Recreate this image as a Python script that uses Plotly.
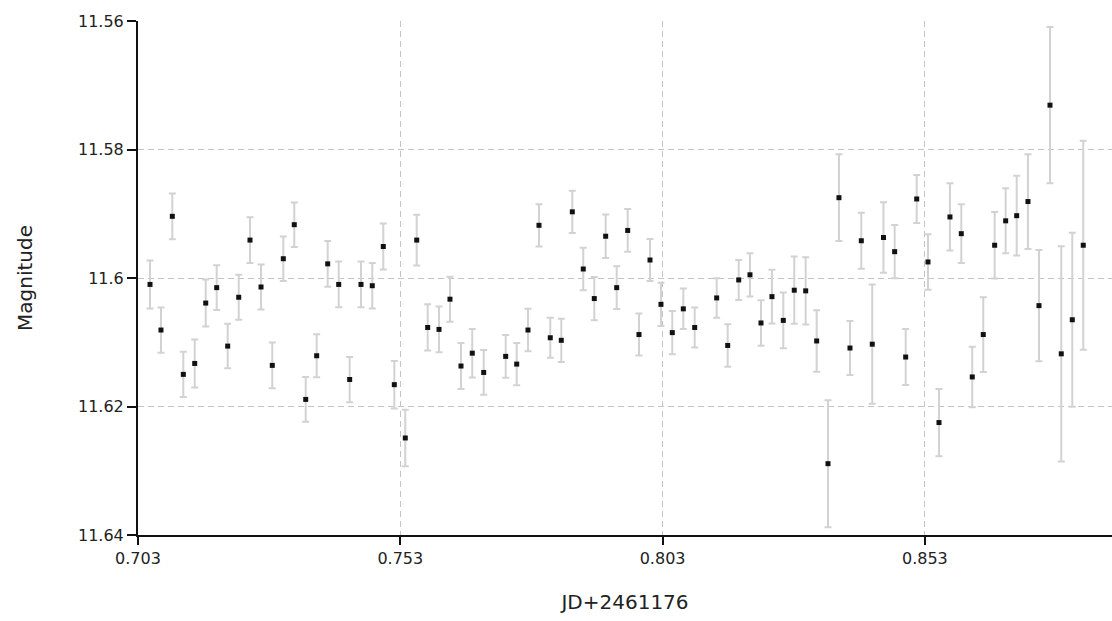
import plotly.graph_objects as go

# Observation times (JD - 2461176)
jd = [
    0.70529, 0.70738, 0.70954, 0.71164, 0.71381, 0.71591, 0.71800, 0.72010,
    0.72220, 0.72435, 0.72645, 0.72860, 0.73070, 0.73279, 0.73497, 0.73706,
    0.73916, 0.74126, 0.74335, 0.74551, 0.74766, 0.74976, 0.75186, 0.75395,
    0.75613, 0.75822, 0.76038, 0.76247, 0.76457, 0.76672, 0.76890, 0.77309,
    0.77519, 0.77734, 0.77944, 0.78159, 0.78369, 0.78579, 0.78788, 0.78998,
    0.79215, 0.79425, 0.79635, 0.79850, 0.80060, 0.80269, 0.80485, 0.80695,
    0.80912, 0.81331, 0.81541, 0.81751, 0.81966, 0.82176, 0.82385, 0.82601,
    0.82810, 0.83028, 0.83237, 0.83453, 0.83662, 0.83872, 0.84088, 0.84297,
    0.84511, 0.84724, 0.84934, 0.85144, 0.85359, 0.85569, 0.85778, 0.85994,
    0.86203, 0.86413, 0.86630, 0.86840, 0.87050, 0.87265, 0.87475, 0.87685,
    0.87900, 0.88110, 0.88319,
]

# Measured magnitudes
mag = [
    11.6010, 11.6081, 11.5904, 11.6150, 11.6133, 11.6039, 11.6015, 11.6106,
    11.6030, 11.5941, 11.6014, 11.6136, 11.5970, 11.5917, 11.6189, 11.6121,
    11.5978, 11.6010, 11.6158, 11.6010, 11.6012, 11.5951, 11.6166, 11.6249,
    11.5941, 11.6077, 11.6080, 11.6033, 11.6137, 11.6117, 11.6147, 11.6122,
    11.6134, 11.6081, 11.5918, 11.6093, 11.6097, 11.5897, 11.5986, 11.6032,
    11.5935, 11.6015, 11.5926, 11.6088, 11.5972, 11.6041, 11.6085, 11.6048,
    11.6077, 11.6031, 11.6105, 11.6003, 11.5995, 11.6070, 11.6029, 11.6066,
    11.6019, 11.6020, 11.6098, 11.6289, 11.5875, 11.6109, 11.5942, 11.6103,
    11.5937, 11.5959, 11.6123, 11.5877, 11.5975, 11.6225, 11.5905, 11.5931,
    11.6154, 11.6088, 11.5949, 11.5911, 11.5903, 11.5881, 11.6043, 11.5731,
    11.6118, 11.6065, 11.5949,
]

# 1-sigma uncertainties
err = [
    0.00373, 0.00352, 0.00355, 0.00352, 0.00373, 0.00365, 0.00349, 0.00346,
    0.00349, 0.00355, 0.00352, 0.00355, 0.00346, 0.00346, 0.00349, 0.00334,
    0.00357, 0.00355, 0.00352, 0.00355, 0.00355, 0.00357, 0.00370, 0.00440,
    0.00396, 0.00360, 0.00357, 0.00349, 0.00357, 0.00378, 0.00349, 0.00334,
    0.00328, 0.00331, 0.00329, 0.00311, 0.00336, 0.00328, 0.00331, 0.00336,
    0.00337, 0.00331, 0.00332, 0.00328, 0.00328, 0.00336, 0.00336, 0.00315,
    0.00311, 0.00307, 0.00332, 0.00311, 0.00337, 0.00355, 0.00419, 0.00435,
    0.00523, 0.00523, 0.00479, 0.00989, 0.00676, 0.00419, 0.00437, 0.00927,
    0.00549, 0.00414, 0.00435, 0.00375, 0.00432, 0.00523, 0.00523, 0.00458,
    0.00471, 0.00582, 0.00517, 0.00505, 0.00621, 0.00738, 0.00867, 0.01216,
    0.01675, 0.01354, 0.01628,
]

x_ticks = [0.703, 0.753, 0.803, 0.853]
x_tick_text = ["0.703", "0.753", "0.803", "0.853"]
y_ticks = [11.56, 11.58, 11.60, 11.62, 11.64]
y_tick_text = ["11.56", "11.58", "11.6", "11.62", "11.64"]

FONT = "DejaVu Sans"

fig = go.Figure(
    go.Scatter(
        x=jd,
        y=mag,
        mode="markers",
        marker=dict(symbol="square", size=5, color="#111111"),
        error_y=dict(type="data", array=err, visible=True,
                     color="#d2d2d2", thickness=2, width=3.5),
        showlegend=False,
    )
)

grid = dict(showgrid=True, gridcolor="#c4c4c4", gridwidth=1, griddash="6px,4px")

fig.update_xaxes(
    range=[0.703, 0.88867],
    tickvals=x_ticks, ticktext=x_tick_text,
    ticks="outside", ticklen=8, tickwidth=2, tickcolor="#111111",
    showline=True, linecolor="#111111", linewidth=2,
    zeroline=False,
    tickfont=dict(family=FONT, size=16, color="#222222"),
    title=dict(text="JD+2461176", font=dict(family=FONT, size=20, color="#222222"), standoff=28),
    **grid,
)
fig.update_yaxes(
    range=[11.64, 11.56],
    tickvals=y_ticks, ticktext=y_tick_text,
    ticks="outside", ticklen=9, tickwidth=2, tickcolor="#111111",
    showline=True, linecolor="#111111", linewidth=2,
    zeroline=False,
    tickfont=dict(family=FONT, size=16, color="#222222"),
    title=dict(text="Magnitude", font=dict(family=FONT, size=20, color="#222222"), standoff=40),
    **grid,
)

fig.update_layout(
    width=1112, height=621,
    margin=dict(l=138, r=0, t=21, b=86),
    paper_bgcolor="white", plot_bgcolor="white",
)

fig.write_html("out.html")
